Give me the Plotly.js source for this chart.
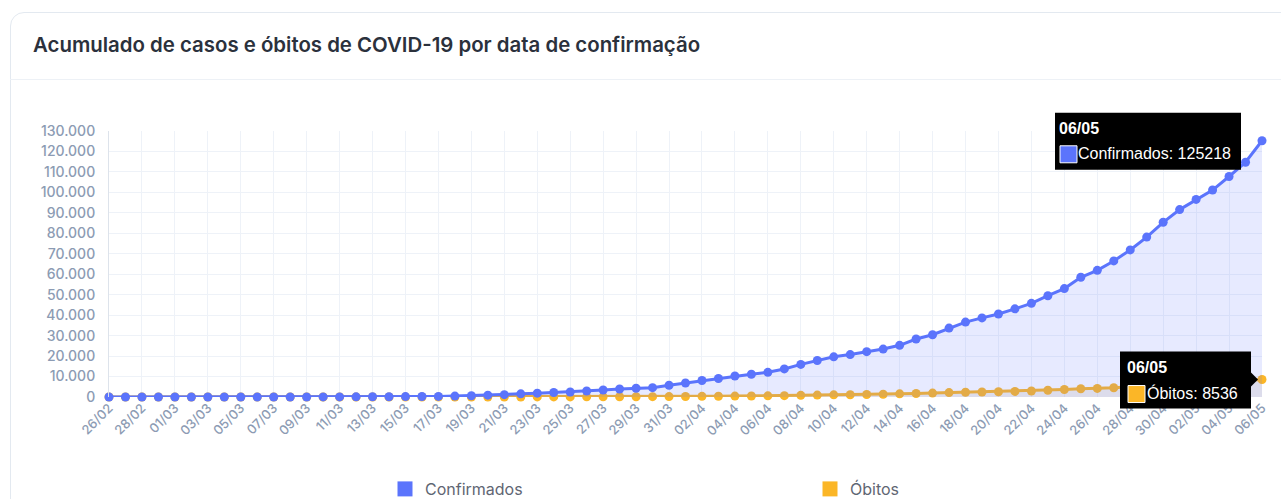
<!DOCTYPE html>
<html>
<head>
<meta charset="utf-8">
<script src="https://cdn.plot.ly/plotly-3.0.1.min.js"></script>
<style>
  html, body { margin: 0; padding: 0; background: #ffffff; overflow: hidden; }
  #card {
    position: absolute; left: 10px; top: 12px; width: 1300px; height: 520px;
    border: 1px solid #e3e9f0; border-radius: 14px; box-sizing: border-box;
  }
  #sep { position: absolute; left: 10px; top: 79px; width: 1300px; height: 1px; background: #edf1f6; }
  #chart { position: absolute; left: 0; top: 0; width: 1281px; height: 499px; }
</style>
</head>
<body>
<div id="card"></div>
<div id="sep"></div>
<div id="chart"></div>
<script>
const datas = [
  '26/02','27/02','28/02','29/02',
  '01/03','02/03','03/03','04/03','05/03','06/03','07/03','08/03','09/03','10/03',
  '11/03','12/03','13/03','14/03','15/03','16/03','17/03','18/03','19/03','20/03',
  '21/03','22/03','23/03','24/03','25/03','26/03','27/03','28/03','29/03','30/03','31/03',
  '01/04','02/04','03/04','04/04','05/04','06/04','07/04','08/04','09/04','10/04',
  '11/04','12/04','13/04','14/04','15/04','16/04','17/04','18/04','19/04','20/04',
  '21/04','22/04','23/04','24/04','25/04','26/04','27/04','28/04','29/04','30/04',
  '01/05','02/05','03/05','04/05','05/05','06/05'
];

const confirmados = [
  1, 1, 1, 2,
  2, 2, 2, 3, 8, 13, 19, 25, 25, 34,
  52, 77, 98, 121, 200, 234, 291, 428, 621, 904,
  1128, 1546, 1891, 2201, 2433, 2915, 3417, 3904, 4256, 4579, 5717,
  6836, 8044, 9056, 10278, 11130, 12056, 13717, 15927, 17857, 19638,
  20727, 22169, 23430, 25262, 28320, 30425, 33682, 36599, 38654, 40581,
  43079, 45757, 49492, 52995, 58509, 61888, 66501, 71886, 78162, 85380,
  91589, 96559, 101147, 107780, 114715, 125218
];

const obitos = [
  0, 0, 0, 0,
  0, 0, 0, 0, 0, 0, 0, 0, 0, 0,
  0, 0, 0, 0, 0, 0, 1, 4, 7, 11,
  18, 25, 34, 46, 59, 77, 92, 111, 136, 159, 201,
  240, 324, 359, 445, 486, 553, 667, 800, 941, 1056,
  1124, 1223, 1328, 1532, 1736, 1924, 2141, 2347, 2462, 2575,
  2741, 2906, 3313, 3670, 4016, 4205, 4543, 5017, 5466, 5901,
  6329, 6750, 7025, 7321, 7921, 8536
];

const ticksX = datas.filter((d, i) => i % 2 === 0);
const Y_MAX = 130000;

const AZUL = '#5b74fc';
const AMARELO = '#fbb627';
const FONTE = 'Inter, "Open Sans", sans-serif';
const FONTE_TIP = 'Arial, "Liberation Sans", sans-serif';
const CINZA_EIXO = '#8c9bb3';

const ultimo = datas[datas.length - 1];
const nConf = confirmados[confirmados.length - 1];
const nObit = obitos[obitos.length - 1];

const traces = [
  {
    type: 'scatter', mode: 'lines+markers', name: 'Óbitos',
    x: datas, y: obitos,
    line: { color: AMARELO, width: 3 },
    marker: { color: AMARELO, size: 9 },
    fill: 'tozeroy', fillcolor: 'rgba(200,180,150,0.22)',
    cliponaxis: false, showlegend: false, hoverinfo: 'skip'
  },
  {
    type: 'scatter', mode: 'lines+markers', name: 'Confirmados',
    x: datas, y: confirmados,
    line: { color: AZUL, width: 3 },
    marker: { color: AZUL, size: 9 },
    fill: 'tozeroy', fillcolor: 'rgba(91,116,252,0.15)',
    cliponaxis: false, showlegend: false, hoverinfo: 'skip'
  },
  // legend entries (square swatches)
  {
    type: 'scatter', mode: 'markers', name: 'Confirmados', x: [null], y: [null],
    marker: { color: AZUL, size: 15, symbol: 'square' }, legend: 'legend'
  },
  {
    type: 'scatter', mode: 'markers', name: 'Óbitos', x: [null], y: [null],
    marker: { color: AMARELO, size: 15, symbol: 'square' }, legend: 'legend2'
  }
];

// hover-style box next to the last point: pixel offsets from the point.
// paper refs so the box is not clipped at the plot edges
function tooltip(valor, nome, cor, caixa, quad, xTit, xTxt, seta) {
  const ancora = { xref: 'paper', yref: 'paper', xsizemode: 'pixel', ysizemode: 'pixel',
    xanchor: 1, yanchor: valor / Y_MAX, layer: 'above' };
  const shapes = [
    Object.assign({ type: 'rect', x0: caixa[0], x1: caixa[1], y0: caixa[2], y1: caixa[3],
      fillcolor: '#000000', line: { width: 0 } }, ancora),
    Object.assign({ type: 'rect', x0: quad[0], x1: quad[0] + 17, y0: quad[1], y1: quad[1] + 17,
      fillcolor: cor, line: { color: '#ffffff', width: 1 } }, ancora)
  ];
  if (seta) {
    shapes.push(Object.assign({ type: 'path', path: 'M ' + caixa[1] + ',-7 L ' + (caixa[1] + 7) + ',0 L ' + caixa[1] + ',7 Z',
      fillcolor: '#000000', line: { width: 0 } }, ancora));
  }
  const annots = [
    { x: ultimo, y: valor, xref: 'x', yref: 'y', xanchor: 'left', yanchor: 'middle',
      xshift: xTit, yshift: 12, showarrow: false, text: '<b>' + ultimo + '</b>',
      font: { family: FONTE_TIP, size: 16, color: '#ffffff' } },
    { x: ultimo, y: valor, xref: 'x', yref: 'y', xanchor: 'left', yanchor: 'middle',
      xshift: xTxt, yshift: -13, showarrow: false, text: nome + ': ' + valor,
      font: { family: FONTE_TIP, size: 16, color: '#ffffff' } }
  ];
  return { shapes, annots };
}

const tipConf = tooltip(nConf, 'Confirmados', AZUL, [-207, -21, -29, 28], [-202, -22], -205, -186, false);
const tipObit = tooltip(nObit, 'Óbitos', AMARELO, [-142, -11, -29, 28], [-134, -23], -137, -117, true);

const legendaBase = {
  orientation: 'h', xref: 'container', yref: 'container',
  y: 1 - 489 / 499, xanchor: 'left', yanchor: 'middle',
  font: { family: FONTE, size: 16, color: '#5f6673' }, bgcolor: 'rgba(0,0,0,0)'
};

const layout = {
  width: 1281, height: 499,
  margin: { l: 109, r: 19, t: 131, b: 102 },
  paper_bgcolor: 'rgba(0,0,0,0)', plot_bgcolor: 'rgba(0,0,0,0)',
  separators: ',.',
  font: { family: FONTE },
  title: {
    text: 'Acumulado de casos e óbitos de COVID-19 por data de confirmação',
    xref: 'container', yref: 'container', x: 33 / 1281, y: 1 - 45 / 499,
    xanchor: 'left', yanchor: 'middle',
    font: { family: FONTE, size: 20.4, color: '#2b313c', weight: 600 }
  },
  xaxis: {
    type: 'category', range: [0, datas.length - 1],
    tickvals: ticksX, ticktext: ticksX, tickangle: -45,
    tickfont: { family: FONTE, size: 13, color: CINZA_EIXO, weight: 500 },
    showgrid: true, gridcolor: '#eef2f8', gridwidth: 1,
    showline: false, zeroline: false, ticks: ''
  },
  yaxis: {
    range: [0, Y_MAX], dtick: 10000, tickformat: ',d',
    tickfont: { family: FONTE, size: 14, color: CINZA_EIXO, weight: 500 },
    showgrid: true, gridcolor: '#eef2f8', gridwidth: 1,
    showline: true, linecolor: '#dde3eb', linewidth: 1,
    zeroline: false, ticks: '', ticklabelstandoff: 10
  },
  legend: Object.assign({ x: 385 / 1281 }, legendaBase),
  legend2: Object.assign({ x: 810 / 1281 }, legendaBase),
  annotations: tipConf.annots.concat(tipObit.annots),
  shapes: tipConf.shapes.concat(tipObit.shapes),
  hovermode: false
};

Plotly.newPlot('chart', traces, layout, { displayModeBar: false, staticPlot: true });
</script>
</body>
</html>
